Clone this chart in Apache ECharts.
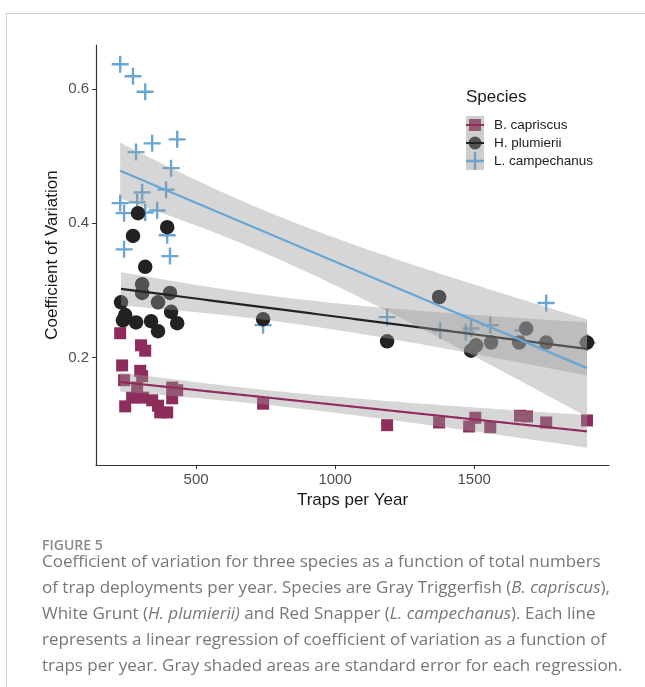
<!DOCTYPE html>
<html><head><meta charset="utf-8">
<script src="https://cdn.jsdelivr.net/npm/echarts@6/dist/echarts.min.js"></script>
<style>html,body{margin:0;padding:0;background:#fff}#c{width:645px;height:687px}</style>
</head><body><div id="c"></div>
<script>
// ---------- data ----------
const speciesNames = ['B. capriscus', 'H. plumierii', 'L. campechanus'];

const bX = [227, 302, 317, 234, 299, 241, 306, 288, 270, 245, 309, 342, 363, 371, 396, 414, 414, 432, 741, 1187, 1374, 1482, 1504, 1558, 1665, 1690, 1759, 1906];
const bY = [0.236, 0.218, 0.210, 0.188, 0.180, 0.166, 0.172, 0.155, 0.140, 0.127, 0.140, 0.136, 0.128, 0.118, 0.118, 0.155, 0.139, 0.151, 0.131, 0.099, 0.103, 0.097, 0.110, 0.096, 0.113, 0.112, 0.103, 0.106];

const hX = [291, 396, 273, 317, 306, 306, 230, 245, 237, 284, 338, 363, 410, 432, 406, 363, 741, 1187, 1374, 1489, 1507, 1561, 1662, 1687, 1759, 1906];
const hY = [0.415, 0.394, 0.381, 0.335, 0.309, 0.296, 0.282, 0.263, 0.255, 0.252, 0.254, 0.239, 0.268, 0.251, 0.296, 0.282, 0.257, 0.224, 0.290, 0.210, 0.218, 0.222, 0.222, 0.243, 0.222, 0.222];

const lX = [227, 273, 317, 284, 342, 432, 410, 392, 306, 288, 227, 241, 317, 360, 396, 241, 406, 741, 1187, 1378, 1470, 1489, 1558, 1676, 1759, 1906];
const lY = [0.637, 0.619, 0.596, 0.506, 0.519, 0.525, 0.482, 0.450, 0.446, 0.431, 0.430, 0.415, 0.416, 0.419, 0.382, 0.361, 0.351, 0.248, 0.260, 0.240, 0.238, 0.243, 0.248, 0.240, 0.281, 0.222];

const xTicks = [500, 1000, 1500];
const yTicks = [0.2, 0.4, 0.6];

// ---------- helpers ----------
function zipXY(xs, ys) { return xs.map((x, i) => [x, ys[i]]); }

function tQuant(df) {
  const z = 1.959964;
  const g1 = (Math.pow(z, 3) + z) / 4;
  const g2 = (5 * Math.pow(z, 5) + 16 * Math.pow(z, 3) + 3 * z) / 96;
  const g3 = (3 * Math.pow(z, 7) + 19 * Math.pow(z, 5) + 17 * Math.pow(z, 3) - 15 * z) / 384;
  return z + g1 / df + g2 / (df * df) + g3 / (df * df * df);
}

// linear regression with 95% confidence band (like geom_smooth(method = "lm"))
function lmBand(xs, ys) {
  const n = xs.length;
  const mx = xs.reduce((a, b) => a + b, 0) / n;
  const my = ys.reduce((a, b) => a + b, 0) / n;
  let sxx = 0, sxy = 0;
  for (let i = 0; i < n; i++) { sxx += (xs[i] - mx) ** 2; sxy += (xs[i] - mx) * (ys[i] - my); }
  const b = sxy / sxx, a = my - b * mx;
  let sse = 0;
  for (let i = 0; i < n; i++) sse += (ys[i] - a - b * xs[i]) ** 2;
  const s = Math.sqrt(sse / (n - 2));
  const t = tQuant(n - 2);
  const x0 = Math.min(...xs), x1 = Math.max(...xs);
  const out = [];
  for (let k = 0; k < 80; k++) {
    const x = x0 + (x1 - x0) * k / 79;
    const yh = a + b * x;
    const se = s * Math.sqrt(1 / n + (x - mx) ** 2 / sxx);
    out.push([x, yh, yh - t * se, yh + t * se]);
  }
  return out;
}

const colB = '#8E2D5C', colH = '#222222', colL = '#6AA6D4';
const ribbonFill = 'rgba(153,153,153,0.4)';
const plusPath = 'path://M8.6,0H11.4V8.6H20V11.4H11.4V20H8.6V11.4H0V8.6H8.6Z';

function ribbonSeries(band, z) {
  return {
    type: 'custom', z: z, silent: true,
    data: band,
    encode: { x: 0, y: [2, 3] },
    renderItem: function (params, api) {
      if (params.dataIndex !== 0) return;
      const pts = [];
      for (const d of band) pts.push(api.coord([d[0], d[3]]));
      for (let i = band.length - 1; i >= 0; i--) pts.push(api.coord([band[i][0], band[i][2]]));
      return { type: 'polygon', shape: { points: pts }, style: { fill: ribbonFill } };
    }
  };
}
function lineSeries(band, color, z) {
  return {
    type: 'line', z: z, silent: true, showSymbol: false, smooth: false,
    data: band.map(d => [d[0], d[1]]),
    lineStyle: { color: color, width: 2.2 }
  };
}

const bandB = lmBand(bX, bY), bandH = lmBand(hX, hY), bandL = lmBand(lX, lY);

const axisCol = '#333333';
const tickLabCol = '#4D4D4D';
const font = 'Liberation Sans, Arial, sans-serif';
const capFont = 'Open Sans, Noto Sans, sans-serif';

// legend keys
const legendX = 466, legendY = 116, keyW = 18, keyH = 18;
const legendItems = [
  { name: speciesNames[0], color: colB, sym: 'rect' },
  { name: speciesNames[1], color: colH, sym: 'circle' },
  { name: speciesNames[2], color: colL, sym: 'plus' }
];
const gfx = [];
// figure frame lines
gfx.push({ type: 'line', shape: { x1: 6, y1: 13.5, x2: 645, y2: 13.5 }, style: { stroke: '#CFCFCF', lineWidth: 1 }, z: 10 });
gfx.push({ type: 'line', shape: { x1: 6.5, y1: 13, x2: 6.5, y2: 687 }, style: { stroke: '#CFCFCF', lineWidth: 1 }, z: 10 });
gfx.push({ type: 'text', left: legendX, top: 89, style: { text: 'Species', font: '17px ' + font, fill: '#1A1A1A' }, z: 10 });
legendItems.forEach((it, i) => {
  const cy = legendY + i * keyH + keyH / 2, cx = legendX + keyW / 2;
  gfx.push({ type: 'rect', shape: { x: legendX, y: legendY + i * keyH, width: keyW, height: keyH }, style: { fill: '#F2F2F2' }, z: 10 });
  if (it.sym === 'rect') gfx.push({ type: 'rect', shape: { x: cx - 6, y: cy - 6, width: 12, height: 12 }, style: { fill: it.color }, z: 11 });
  if (it.sym === 'circle') gfx.push({ type: 'circle', shape: { cx: cx, cy: cy, r: 6.5 }, style: { fill: it.color }, z: 11 });
  if (it.sym === 'plus') {
    gfx.push({ type: 'rect', shape: { x: legendX, y: cy - 1.3, width: keyW, height: 2.6 }, style: { fill: it.color }, z: 11 });
    gfx.push({ type: 'rect', shape: { x: cx - 1.3, y: legendY + i * keyH, width: 2.6, height: keyH }, style: { fill: it.color }, z: 11 });
  }
  gfx.push({ type: 'rect', shape: { x: legendX, y: legendY + i * keyH, width: keyW, height: keyH }, style: { fill: ribbonFill }, z: 12 });
  gfx.push({ type: 'line', shape: { x1: legendX, y1: cy, x2: legendX + keyW, y2: cy }, style: { stroke: it.color, lineWidth: 2 }, z: 13 });
  gfx.push({ type: 'text', left: 494, top: cy - 7, style: { text: it.name, font: '13.5px ' + font, fill: '#1A1A1A' }, z: 13 });
});

// caption
gfx.push({ type: 'text', left: 42, top: 539, style: { text: 'FIGURE 5', font: '600 14px ' + capFont, fill: '#8A8A8A' }, z: 10 });
const capLines = [
  ['Coefficient of variation for three species as a function of total numbers'],
  ['of trap deployments per year. Species are Gray Triggerfish (', '{i|B. capriscus}', '),'],
  ['White Grunt (', '{i|H. plumierii)}', ' and Red Snapper (', '{i|L. campechanus}', '). Each line'],
  ['represents a linear regression of coefficient of variation as a function of'],
  ['traps per year. Gray shaded areas are standard error for each regression.']
];
capLines.forEach((segs, i) => {
  gfx.push({
    type: 'text', left: 42, top: 554 + i * 26,
    style: {
      text: segs.join(''), font: '17px ' + capFont, fill: '#777777',
      rich: { i: { fontStyle: 'italic', fontFamily: capFont, fontSize: 17, fill: '#777777' } }
    }, z: 10
  });
});

const option = {
  backgroundColor: '#ffffff',
  animation: false,
  grid: { left: 96, right: 36, top: 45, bottom: 222, containLabel: false },
  xAxis: {
    type: 'value', min: 140, max: 1985,
    name: 'Traps per Year', nameLocation: 'middle', nameGap: 23,
    nameTextStyle: { fontFamily: font, fontSize: 17, color: '#1A1A1A' },
    axisLine: { show: true, lineStyle: { color: axisCol, width: 1.2 } },
    axisTick: { show: true, customValues: xTicks, length: 4, lineStyle: { color: axisCol } },
    axisLabel: { customValues: xTicks, margin: 7, fontFamily: font, fontSize: 15, color: tickLabCol, formatter: v => String(v) },
    splitLine: { show: false }
  },
  yAxis: {
    type: 'value', min: 0.0396, max: 0.6656,
    name: 'Coefficient of Variation', nameLocation: 'middle', nameGap: 35, nameRotate: 90,
    nameMoveOverlap: false,
    nameTextStyle: { fontFamily: font, fontSize: 17, color: '#1A1A1A' },
    axisLine: { show: true, lineStyle: { color: axisCol, width: 1.2 } },
    axisTick: { show: true, customValues: yTicks, length: 4, lineStyle: { color: axisCol } },
    axisLabel: { customValues: yTicks, margin: 7, fontFamily: font, fontSize: 15, color: tickLabCol, formatter: v => v.toFixed(1) },
    splitLine: { show: false }
  },
  graphic: gfx,
  series: [
    { name: speciesNames[2], type: 'scatter', z: 2, symbol: plusPath, symbolSize: 17, data: zipXY(lX, lY), itemStyle: { color: colL, opacity: 1 } },
    { name: speciesNames[0], type: 'scatter', z: 2, symbol: 'rect', symbolSize: 12, data: zipXY(bX, bY), itemStyle: { color: colB, opacity: 1 } },
    { name: speciesNames[1], type: 'scatter', z: 2, symbol: 'circle', symbolSize: 14.5, data: zipXY(hX, hY), itemStyle: { color: colH, opacity: 1 } },
    ribbonSeries(bandB, 3), lineSeries(bandB, colB, 4),
    ribbonSeries(bandH, 5), lineSeries(bandH, colH, 6),
    ribbonSeries(bandL, 7), lineSeries(bandL, colL, 8)
  ]
};
const chart = echarts.init(document.getElementById('c'), null, { renderer: 'canvas' });
chart.setOption(option);
</script></body></html>
